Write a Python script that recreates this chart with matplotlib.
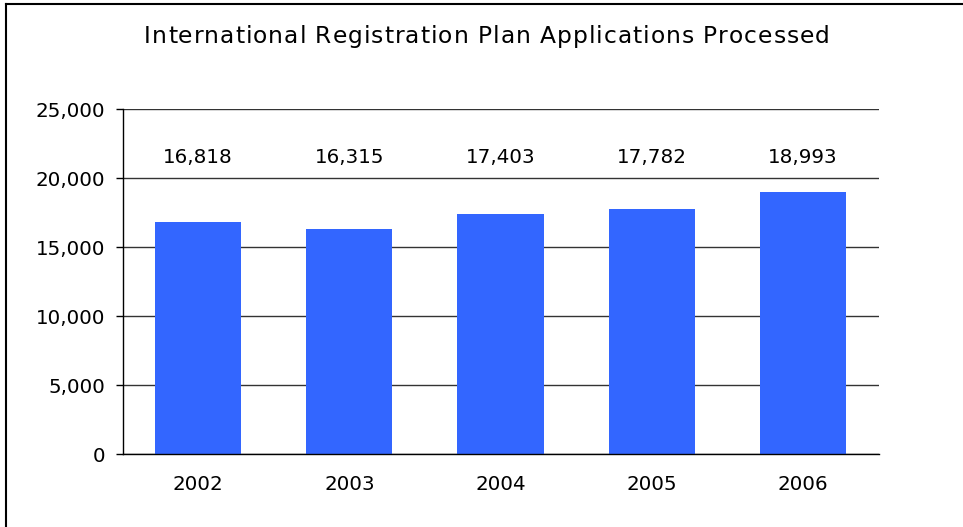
import matplotlib.pyplot as plt
from matplotlib.lines import Line2D
from matplotlib.ticker import FuncFormatter
from matplotlib.font_manager import FontProperties, findfont, get_font
from matplotlib.transforms import offset_copy

# data
years = ["2002", "2003", "2004", "2005", "2006"]
applications = [16818, 16315, 17403, 17782, 18993]
title = "International Registration Plan Applications Processed"

DPI = 100
LABEL_Y = 21130  # baseline of the value labels (one row above the bars)
NUM_SIZE = 14.3

fig = plt.figure(figsize=(9.63, 5.27), dpi=DPI)
ax = fig.add_axes([0.1273, 0.138, 0.785, 0.6546])


def spaced_text(x, y, s, size, track, transform):
    """Centered text with extra letter spacing (track in pixels)."""
    font = get_font(findfont(FontProperties(family='DejaVu Sans')))
    font.set_size(size, DPI)
    adv = [font.load_char(ord(c)).linearHoriAdvance / 65536 + track for c in s]
    pos = -(sum(adv) - track) / 2
    for c, a in zip(s, adv):
        tr = offset_copy(transform, fig=fig, x=pos, y=0, units='dots')
        fig.text(x, y, c, transform=tr, ha='left', va='baseline', fontsize=size)
        pos += a


x = range(len(years))
ax.bar(x, applications, width=0.57, color='#3366FF', zorder=3)

for i, v in enumerate(applications):
    ax.text(i, LABEL_Y, f"{v:,}", ha='center', va='baseline', fontsize=NUM_SIZE)

ax.set_xlim(-0.5, len(years) - 0.5)
ax.set_ylim(0, 25000)
ax.set_yticks(range(0, 25001, 5000))
ax.yaxis.set_major_formatter(FuncFormatter(lambda v, p: f"{int(v):,}"))
ax.set_xticks(list(x))
ax.set_xticklabels(years)
ax.tick_params(axis='y', length=5.2, width=1, direction='out', labelsize=NUM_SIZE, pad=7.5)
ax.tick_params(axis='x', length=0, labelsize=NUM_SIZE, pad=15)
ax.grid(axis='y', color='#333333', linewidth=1, zorder=0)

for s in ['top', 'right']:
    ax.spines[s].set_visible(False)
for s in ['left', 'bottom']:
    ax.spines[s].set_color('black')
    ax.spines[s].set_linewidth(1)
    ax.spines[s].set_zorder(4)

spaced_text(487 / 963, 1 - 43 / 527, title, 16.8, 1.0, fig.transFigure)

# frame lines (top and left only)
fig.add_artist(Line2D([5.5 / 963, 1], [1 - 4 / 527, 1 - 4 / 527], color='black', lw=1.5,
                      transform=fig.transFigure))
fig.add_artist(Line2D([5.8 / 963, 5.8 / 963], [0, 1 - 4 / 527], color='black', lw=1.5,
                      transform=fig.transFigure))

plt.savefig('out.png', dpi=DPI, facecolor='white')
plt.close()
